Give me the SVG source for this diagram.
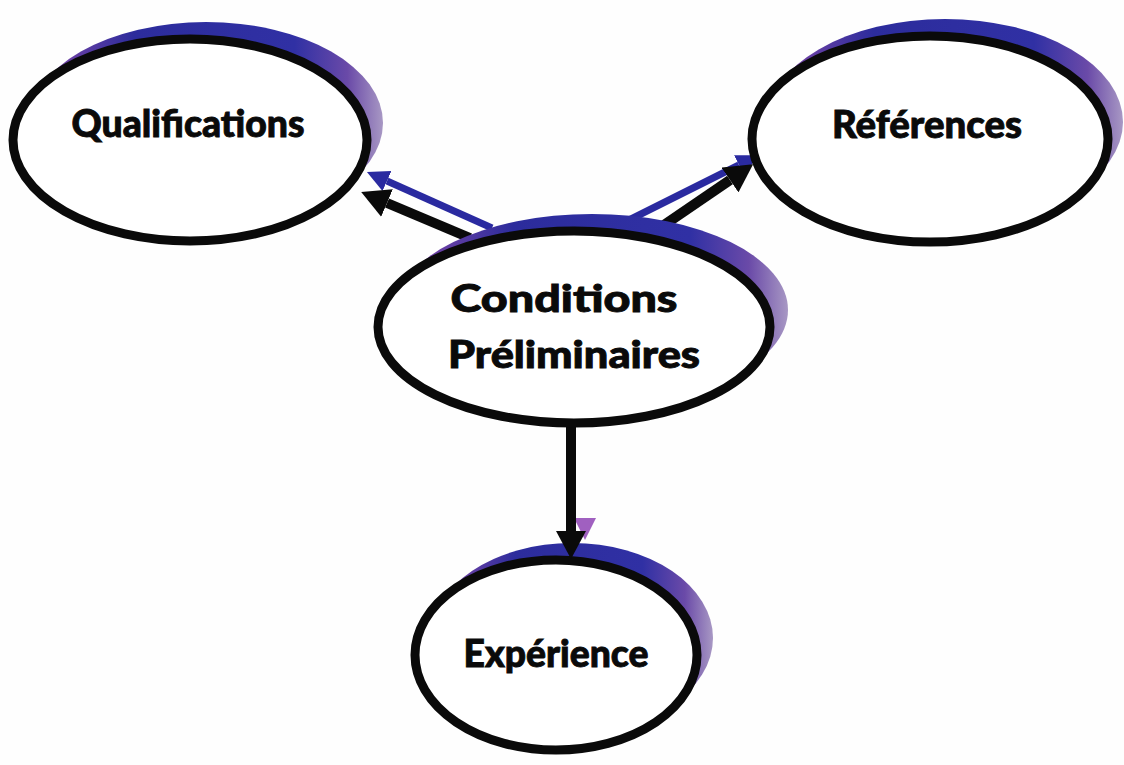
<svg xmlns="http://www.w3.org/2000/svg" width="1124" height="765" viewBox="0 0 1124 765">
  <defs>
    <linearGradient id="shade" x1="0" y1="0" x2="1" y2="0">
      <stop offset="0" stop-color="#8a4aa8"/>
      <stop offset="0.3" stop-color="#2c2c9c"/>
      <stop offset="0.75" stop-color="#3030a4"/>
      <stop offset="0.9" stop-color="#6a4aa8"/>
      <stop offset="1" stop-color="#a898c4"/>
    </linearGradient>
    <linearGradient id="shadeV" x1="0" y1="0" x2="0" y2="1">
      <stop offset="0" stop-color="#3a3aa8"/>
      <stop offset="0.6" stop-color="#4a3aa0"/>
      <stop offset="1" stop-color="#a060c0"/>
    </linearGradient>
    <marker id="headBlack" markerUnits="userSpaceOnUse" markerWidth="28" markerHeight="30" viewBox="0 0 28 30" refX="0" refY="15" orient="auto">
      <path d="M0,0 L28,15 L0,30 Z" fill="#0a0a0a"/>
    </marker>
    <marker id="headBlue" markerUnits="userSpaceOnUse" markerWidth="22" markerHeight="22" viewBox="0 0 22 22" refX="0" refY="11" orient="auto">
      <path d="M0,0 L22,11 L0,22 Z" fill="#2a2aa0"/>
    </marker>
    <marker id="headPurple" markerUnits="userSpaceOnUse" markerWidth="22" markerHeight="22" viewBox="0 0 22 22" refX="0" refY="11" orient="auto">
      <path d="M0,0 L22,11 L0,22 Z" fill="#a060c0"/>
    </marker>
  </defs>
  <style>
    .shadow { fill: url(#shade); stroke: none; }
    .node { fill: #ffffff; stroke: #0a0a0a; stroke-width: 9; }
    .label { font-family: Lato, "Open Sans", "Liberation Sans", sans-serif; font-weight: 900; font-size: 38px; fill: #0a0a0a; stroke: #0a0a0a; stroke-width: 0.9; text-anchor: middle; }
    .edge { stroke: #0a0a0a; stroke-width: 10; fill: none; }
    .edgeShadow { stroke: #2a2aa0; stroke-width: 7; fill: none; }
  </style>
  <rect width="1124" height="765" fill="#fefefe"/>

  <g id="connectors-shadow">
    <line class="edgeShadow" x1="492" y1="228" x2="387" y2="181" marker-end="url(#headBlue)"/>
    <line class="edgeShadow" x1="625" y1="222" x2="739" y2="165" marker-end="url(#headBlue)"/>
    <line class="edgeShadow" x1="585" y1="408" x2="585" y2="518" style="stroke:url(#shadeV)" marker-end="url(#headPurple)"/>
  </g>

  <g id="node-qualifications">
    <ellipse class="shadow" cx="206" cy="123" rx="177" ry="101"/>
    <ellipse class="node" cx="190" cy="140" rx="177" ry="101"/>
    <text class="label" x="188" y="137" textLength="233" lengthAdjust="spacingAndGlyphs">Qualifications</text>
  </g>

  <g id="node-references">
    <ellipse class="shadow" cx="945" cy="122" rx="178" ry="103"/>
    <ellipse class="node" cx="930" cy="139" rx="178" ry="103"/>
    <text class="label" x="927" y="138" textLength="190" lengthAdjust="spacingAndGlyphs">Références</text>
  </g>

  <g id="node-experience">
    <ellipse class="shadow" cx="572" cy="638" rx="141" ry="95"/>
    <ellipse class="node" cx="556" cy="655" rx="141" ry="95"/>
    <text class="label" x="556" y="667" textLength="185" lengthAdjust="spacingAndGlyphs">Expérience</text>
  </g>

  <g id="connectors">
    <line class="edge" x1="470" y1="238" x2="387" y2="203" marker-end="url(#headBlack)"/>
    <line class="edge" x1="648" y1="236" x2="730" y2="180" marker-end="url(#headBlack)"/>
    <line class="edge" x1="571" y1="423" x2="571" y2="531" marker-end="url(#headBlack)"/>
  </g>

  <g id="node-conditions">
    <ellipse class="shadow" cx="592" cy="310" rx="196" ry="96"/>
    <ellipse class="node" cx="574" cy="327" rx="196" ry="96"/>
    <text class="label" x="564" y="312" textLength="227" lengthAdjust="spacingAndGlyphs">Conditions</text>
    <text class="label" x="574" y="368" textLength="252" lengthAdjust="spacingAndGlyphs">Préliminaires</text>
  </g>
</svg>
